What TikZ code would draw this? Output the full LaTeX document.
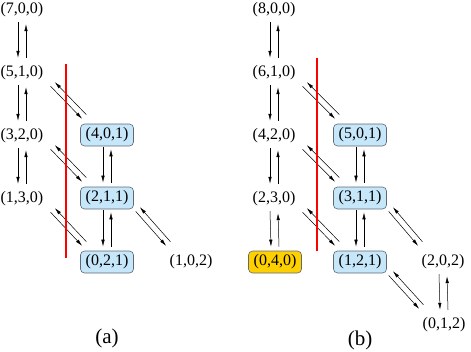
\documentclass[tikz,border=0pt]{standalone}
\usepackage{fontspec}
\setmainfont{Liberation Serif}
\usetikzlibrary{arrows.meta}
\definecolor{boxblue}{RGB}{198,230,250}
\definecolor{boxgold}{RGB}{255,208,0}
\definecolor{boxedge}{RGB}{95,105,115}
\newcommand\vpair[2]{%
  \draw[arr] ([shift={(-4,1)}]#1.south) -- ([shift={(-4,-4)}]#2.north);
  \draw[arr] ([shift={(4,-4)}]#2.north) -- ([shift={(4,3)}]#1.south);}
\newcommand\dpair[2]{%
  \draw[arr] ([shift={(1.9,2.1)}]#1.south east) -- ([shift={(1.9,-4.9)}]#2.north west);
  \draw[arr] ([shift={(6.1,-9.1)}]#2.north west) -- ([shift={(6.1,-2.1)}]#1.south east);}
\begin{document}
\begin{tikzpicture}[x=1pt,y=-1pt,
  st/.style={minimum width=53pt,minimum height=22pt,inner sep=0pt,
    font=\fontsize{16}{19}\selectfont},
  bx/.style={st,draw=boxedge,line width=0.6pt,rounded corners=4pt,fill=boxblue},
  gx/.style={bx,fill=boxgold},
  captxt/.style={font=\fontsize{21}{25}\selectfont},
  arr/.style={-{Latex[length=7pt,width=3.4pt]},line width=0.5pt},
  redl/.style={red,line width=1.8pt}]
\useasboundingbox (0,0) rectangle (471,351);
% panel (a)
\node[st] (a700) at (22,10) {(7,0,0)};
\node[st] (a510) at (22,73) {(5,1,0)};
\node[st] (a320) at (22,136) {(3,2,0)};
\node[st] (a130) at (22,199) {(1,3,0)};
\node[bx] (a401) at (107,135) {(4,0,1)};
\node[bx] (a211) at (107,198) {(2,1,1)};
\node[bx] (a021) at (107,262) {(0,2,1)};
\node[st] (a102) at (191,262) {(1,0,2)};
\node[captxt] (capa) at (107,338) {(a)};
\vpair{a700}{a510}
\vpair{a510}{a320}
\vpair{a320}{a130}
\vpair{a401}{a211}
\vpair{a211}{a021}
\dpair{a510}{a401}
\dpair{a320}{a211}
\dpair{a130}{a021}
\dpair{a211}{a102}
\draw[redl] (66,64) -- (66,258);
% panel (b)
\node[st] (b800) at (274,10) {(8,0,0)};
\node[st] (b610) at (274,73) {(6,1,0)};
\node[st] (b420) at (274,136) {(4,2,0)};
\node[st] (b230) at (274,199) {(2,3,0)};
\node[gx] (b040) at (275,262) {(0,4,0)};
\node[bx] (b501) at (360,135) {(5,0,1)};
\node[bx] (b311) at (360,198) {(3,1,1)};
\node[bx] (b121) at (360,262) {(1,2,1)};
\node[st] (b202) at (443,262) {(2,0,2)};
\node[st] (b012) at (444,325) {(0,1,2)};
\node[captxt] (capb) at (360,340) {(b)};
\vpair{b800}{b610}
\vpair{b610}{b420}
\vpair{b420}{b230}
\vpair{b230}{b040}
\vpair{b501}{b311}
\vpair{b311}{b121}
\vpair{b202}{b012}
\dpair{b610}{b501}
\dpair{b420}{b311}
\dpair{b230}{b121}
\dpair{b311}{b202}
\dpair{b121}{b012}
\draw[redl] (317,58) -- (317,251);
\end{tikzpicture}
\end{document}
